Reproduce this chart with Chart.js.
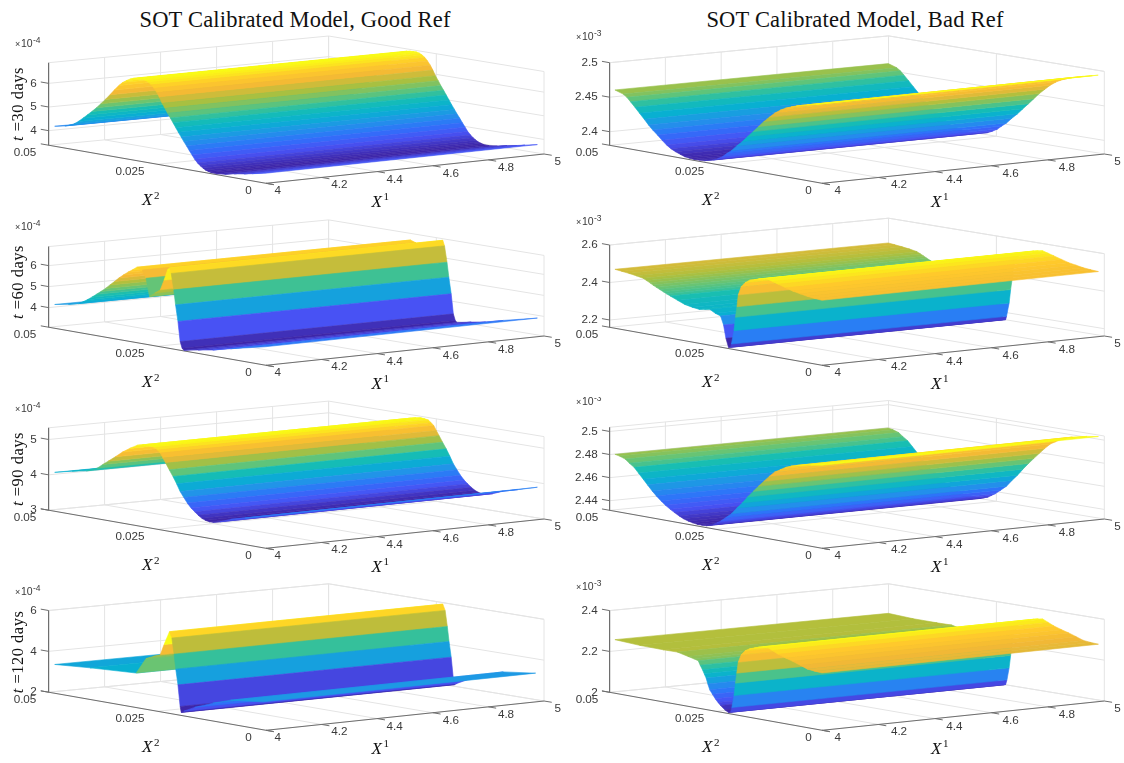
<!DOCTYPE html>
<html><head><meta charset="utf-8">
<style>
html,body{margin:0;padding:0;background:#fff;width:1124px;height:763px;overflow:hidden}
canvas{position:absolute;display:block}
.ttl{position:absolute;top:7px;font-family:"Liberation Serif",serif;font-size:22.5px;color:#111;white-space:nowrap;transform:translateX(-50%);letter-spacing:.2px}
</style>
<script src="https://cdn.jsdelivr.net/npm/chart.js@4"></script>
</head><body>
<div class="ttl" style="left:295px">SOT Calibrated Model, Good Ref</div>
<div class="ttl" style="left:855px">SOT Calibrated Model, Bad Ref</div>
<script>
const X1_TICKS=[4,4.2,4.4,4.6,4.8,5];
const X2_TICKS=[0,0.025,0.05];
const X1_SPAN=[4,4.98];

const x2_good30=[.0486,.04625,.04525,.0442,.04315,.0421,.0411,.04005,.039,.038,.03695,.0359,.0349,.03385,.033,.03215,.0313,.0305,.0297,.02885,.02825,.0276,.027,.02635,.02575,.0251,.0245,.0239,.02325,.02265,.022,.0214,.02075,.02015,.0195,.0189,.01825,.01765,.017,.0164,.01575,.01515,.0145,.01395,.0133,.0127,.01145,.0095,.0073,.005,.00315,.00025];
const z_good30=[4.23,4.32,4.38,4.47,4.61,4.78,4.95,5.13,5.32,5.52,5.74,5.97,6.2,6.43,6.58,6.69,6.78,6.84,6.86,6.87,6.87,6.84,6.78,6.7,6.57,6.41,6.22,6.0,5.81,5.62,5.44,5.26,5.07,4.89,4.71,4.54,4.37,4.2,4.03,3.87,3.74,3.64,3.56,3.5,3.46,3.43,3.42,3.46,3.55,3.62,3.69,3.8];

const x2_good60=[.0486,.04545,.0431,.0421,.0411,.04005,.039,.038,.0369,.0359,.03485,.03385,.0328,.03175,.0307,.0297,.02845,.0276,.0268,.02555,.0243,.02345,.02265,.0222,.0218,.02122,.0208,.02025,.01975,.0193,.0189,.0156,.01225,.00815,.00025];
const z_good60=[4.2,4.32,4.44,4.56,4.7,4.86,5.03,5.2,5.39,5.59,5.79,5.99,6.18,6.35,6.5,6.66,6.57,6.21,5.37,5.58,5.78,6.27,6.78,6.9,6.65,5.89,5.19,4.42,3.48,3.18,3.1,3.23,3.35,3.56,3.94];

const x2_good90=[.0486,.0446,.0413,.0388,.03755,.0363,.03465,.033,.03135,.0297,.02845,.0272,.02635,.02555,.0249,.0243,.0237,.02305,.02225,.0214,.02055,.01975,.0189,.0181,.01725,.0164,.0156,.01475,.01395,.0131,.01225,.0106,.00815,.0048,.00025];
const z_good90=[4.1,4.22,4.3,4.43,4.56,4.68,4.84,5.01,5.15,5.27,5.31,5.33,5.32,5.3,5.24,5.17,5.04,4.91,4.74,4.57,4.38,4.18,4.03,3.89,3.77,3.68,3.6,3.53,3.49,3.47,3.47,3.52,3.64,3.75,3.91];

const x2_good120=[.0486,.04045,.02985,.0276,.02595,.0243,.02345,.0222,.02165,.02115,.02075,.02025,.01975,.0195,.0189,.0164,.01225,.00815,.00065];
const z_good120=[3.41,3.55,3.69,4.48,4.65,4.79,5.32,6.0,5.71,4.94,4.22,3.47,2.43,2.15,2.23,2.51,2.87,3.17,3.37];

const x2_bad30=[.04875,.0468,.04595,.0451,.04405,.04295,.04185,.04085,.03985,.03875,.03765,.0366,.0356,.0345,.0334,.03235,.03135,.03025,.029,.0277,.0256,.0246,.02345,.02245,.02135,.0201,.0188,.01755,.01625,.015,.01375,.01245,.0112,.0099,.00865,.00735,.0061,.00355,.00145,.0001];
const z_bad30=[2.4619,2.458,2.4543,2.4489,2.442,2.4345,2.427,2.4199,2.4136,2.4077,2.4011,2.3955,2.3913,2.3882,2.3855,2.3833,2.3825,2.3817,2.3822,2.3826,2.3859,2.3889,2.3931,2.3986,2.4041,2.4123,2.42,2.4286,2.4373,2.4459,2.4545,2.4622,2.4694,2.4752,2.4795,2.4828,2.4857,2.49,2.4932,2.4953];

const x2_bad60=[.04875,.0472,.0455,.0438,.0421,.0413,.0405,.0398,.039,.0382,.0374,.0366,.03575,.034,.03235,.0306,.029,.0277,.02645,.02515,.0239,.0232,.02265,.02205,.02155,.02135,.02075,.0204,.02005,.01975,.01905,.01815,.0171,.016,.015,.014,.0129,.0117,.01035,.0086,.00695,.0052,.00355,.0018,.00005];
const z_bad60=[2.4755,2.4715,2.467,2.4615,2.4544,2.4455,2.4365,2.4275,2.4188,2.4105,2.402,2.394,2.3859,2.3695,2.3548,2.347,2.3423,2.3477,2.3525,2.3365,2.3272,2.2819,2.2133,2.1676,2.1697,2.188,2.2618,2.3343,2.3921,2.4561,2.5034,2.5283,2.545,2.5525,2.5606,2.5655,2.5692,2.561,2.552,2.54,2.529,2.5215,2.5148,2.5105,2.5077];

const x2_bad90=[.04875,.04765,.04635,.04535,.04425,.0432,.0421,.0411,.04,.039,.0379,.03685,.03575,.03475,.03365,.03265,.03155,.0305,.0294,.0284,.0273,.02645,.0256,.02475,.0239,.02265,.02135,.0201,.0188,.01755,.01625,.015,.01375,.01245,.0112,.0099,.00865,.00735,.0061,.0027,.00005];
const z_bad90=[2.481,2.4802,2.4785,2.4756,2.4727,2.4684,2.4639,2.4596,2.4551,2.4514,2.4478,2.4447,2.442,2.4398,2.4376,2.4359,2.4346,2.4338,2.4331,2.4331,2.4333,2.4344,2.4355,2.4375,2.4395,2.4434,2.4475,2.4532,2.4586,2.4646,2.4703,2.4755,2.4806,2.4858,2.4903,2.4932,2.496,2.498,2.4994,2.5021,2.5036];

const x2_bad120=[.04875,.04295,.03745,.03405,.03155,.0302,.02915,.0287,.02815,.02775,.0273,.0269,.02645,.0258,.02515,.0245,.0239,.0229,.02205,.02155,.02125,.02075,.0204,.0201,.01975,.01905,.01815,.0171,.016,.015,.014,.0129,.0117,.01035,.0086,.00695,.0052,.00355,.0018,.00005];
const z_bad120=[2.2624,2.2561,2.2552,2.2562,2.2443,2.238,2.2319,2.212,2.1916,2.173,2.1539,2.127,2.0999,2.08,2.0607,2.045,2.0326,2.015,2.0052,2.0086,2.0326,2.093,2.155,2.205,2.26,2.2987,2.3215,2.3352,2.343,2.351,2.356,2.3587,2.347,2.3339,2.322,2.3122,2.2995,2.2872,2.283,2.2807];

const ztick_good30=[4,5,6], ztick_good60=[4,5,6], ztick_good90=[3,4,5], ztick_good120=[2,4,6];
const ztick_bad30=[2.4,2.45,2.5], ztick_bad60=[2.2,2.4,2.6], ztick_bad90=[2.44,2.46,2.48,2.5], ztick_bad120=[2,2.2,2.4];
const zlim_good30=[3.385,6.873], zlim_good60=[3.067,6.905], zlim_good90=[3,5.33], zlim_good120=[2,6];
const zlim_bad30=[2.3803,2.5], zlim_bad60=[2.161,2.6], zlim_bad90=[2.4317,2.5036], zlim_bad120=[2,2.4];
const DAYS=[30,60,90,120];

const PARULA=[[.242,.150,.660],[.281,.323,.958],[.180,.450,.980],[.130,.580,.910],[.030,.690,.820],[.090,.745,.700],[.400,.770,.460],[.680,.750,.240],[.950,.720,.210],[1,.790,.170],[.977,.984,.081]];
function parula(t){t=Math.max(0,Math.min(1,t))*10;const i=Math.min(9,Math.floor(t)),f=t-i;
  const c=PARULA[i].map((v,k)=>Math.round(255*(v+(PARULA[i+1][k]-v)*f)));return `rgb(${c[0]},${c[1]},${c[2]})`;}

const panels=[
 {c:0,r:0,x2:x2_good30,z:z_good30,zlim:zlim_good30,zt:ztick_good30,e:'-4',H:82.5,mY:44},
 {c:0,r:1,x2:x2_good60,z:z_good60,zlim:zlim_good60,zt:ztick_good60,e:'-4',H:80.6,mY:227},
 {c:0,r:2,x2:x2_good90,z:z_good90,zlim:zlim_good90,zt:ztick_good90,e:'-4',H:82.4,mY:409},
 {c:0,r:3,x2:x2_good120,z:z_good120,zlim:zlim_good120,zt:ztick_good120,e:'-4',H:81.7,mY:592},
 {c:1,r:0,x2:x2_bad30,z:z_bad30,zlim:zlim_bad30,zt:ztick_bad30,e:'-3',H:82.6,mY:37},
 {c:1,r:1,x2:x2_bad60,z:z_bad60,zlim:zlim_bad60,zt:ztick_bad60,e:'-3',H:82.3,mY:222},
 {c:1,r:2,x2:x2_bad90,z:z_bad90,zlim:zlim_bad90,zt:ztick_bad90,e:'-3',H:83,mY:402},
 {c:1,r:3,x2:x2_bad120,z:z_bad120,zlim:zlim_bad120,zt:ztick_bad120,e:'-3',H:81.7,mY:587}
];
const ROW_OFF=[0,182,365,547], ROW_TOP=[0,213,397,580], ROW_H=[213,184,183,183], YLAB_Y=[104,282,469,652];
const COLS=[
 {F:[266,183.3],L:[48.6,145.2],R:[544,154],K:[328.6,118.5],zr:36.8,mx:15,l05:25,l025:130,l0:248.6,x1l:[277.8,339.4,394.6,450.8,506,557.8],x2lab:151,x1lab:380.5},
 {F:[822.2,183.3],L:[609.6,145.3],R:[1104.3,154],K:[888.5,118.5],zr:597.7,mx:576,l05:587,l025:689.6,l0:808.5,x1l:[837.7,899,954.4,1010.6,1066.8,1117.6],x2lab:711,x1lab:940}
];
const GRID='#e4e4e4', AXIS='#6e6e6e', TXT='#3a3a3a';

panels.forEach(p=>{
  const G=COLS[p.c], off=ROW_OFF[p.r], top=ROW_TOP[p.r], left=p.c*562, W=562, Hc=ROW_H[p.r];
  const proj=(x1,x2,z)=>{
    const u=x1-4,v=x2/0.05,a=(1-u)*(1-v),b=u*(1-v),c=(1-u)*v,d=u*v;
    const x=a*G.F[0]+b*G.R[0]+c*G.L[0]+d*G.K[0];
    const y=a*G.F[1]+b*G.R[1]+c*G.L[1]+d*G.K[1];
    return {x:x-left,y:y+off-top-(z-p.zlim[0])/(p.zlim[1]-p.zlim[0])*p.H};
  };
  const zA=p.zlim[0],zB=p.zlim[1];
  const line=(a,b,color,w)=>({data:[a,b],showLine:true,borderColor:color,borderWidth:w||1,pointRadius:0,fill:false,clip:false});
  const ds=[];
  const cmin=Math.min(...p.z),cmax=Math.max(...p.z);
  for(let i=p.x2.length-2;i>=0;i--){
    const col=parula((p.z[i+1]-cmin)/(cmax-cmin));
    const A=proj(X1_SPAN[0],p.x2[i],p.z[i]),B=proj(X1_SPAN[1],p.x2[i],p.z[i]),
          C=proj(X1_SPAN[1],p.x2[i+1],p.z[i+1]),D=proj(X1_SPAN[0],p.x2[i+1],p.z[i+1]);
    ds.push({data:[A,B,C,D,A],showLine:true,fill:'shape',backgroundColor:col,borderColor:col,borderWidth:.6,pointRadius:0,clip:false});
  }
  ds.push(line(proj(4,.05,zA),proj(4,.05,zB),AXIS,1.2));
  ds.push(line(proj(4,.0518,zA),proj(4,-.0018,zA),AXIS));
  ds.push(line(proj(4,0,zA),proj(5,0,zA),AXIS));
  X1_TICKS.forEach(t=>ds.push(line(proj(t,0,zA),proj(t,-.0018,zA),AXIS)));
  p.zt.forEach(t=>ds.push(line(proj(4,.05,t),proj(4,.0518,t),AXIS)));
  X1_TICKS.forEach(t=>{
    ds.push(line(proj(t,0,zA),proj(t,.05,zA),GRID));
    ds.push(line(proj(t,.05,zA),proj(t,.05,zB),GRID));
  });
  X2_TICKS.forEach(t=>{
    ds.push(line(proj(4,t,zA),proj(5,t,zA),GRID));
    ds.push(line(proj(5,t,zA),proj(5,t,zB),GRID));
  });
  p.zt.concat([zB]).forEach(t=>{
    ds.push(line(proj(4,.05,t),proj(5,.05,t),GRID));
    ds.push(line(proj(5,.05,t),proj(5,0,t),GRID));
  });
  const canvas=document.createElement('canvas');
  canvas.width=W;canvas.height=Hc;canvas.style.left=left+'px';canvas.style.top=top+'px';
  document.body.appendChild(canvas);
  const labels={id:'labels',afterDatasetsDraw(ch){
    const ctx=ch.ctx;const dy=off-top;
    ctx.save();ctx.fillStyle=TXT;ctx.textBaseline='middle';
    ctx.font='11.7px "Liberation Sans"';
    ctx.textAlign='right';
    p.zt.forEach(t=>{const q=proj(4,.05,t);ctx.fillText(String(t),G.zr-left,q.y);});
    ctx.textAlign='center';
    ctx.fillText('0.05',G.l05-left,153+dy);
    ctx.fillText('0.025',G.l025-left,172+dy);
    ctx.fillText('0',G.l0-left,190.7+dy);
    X1_TICKS.forEach((t,i)=>ctx.fillText(String(t),G.x1l[i]-left,191-i*5.8+dy));
    ctx.textAlign='left';
    ctx.font='9px "Liberation Sans"';ctx.fillText('×',G.mx-left,p.mY+.5-top);
    ctx.font='10.5px "Liberation Sans"';ctx.fillText('10',G.mx-left+6,p.mY-top);
    ctx.font='8.5px "Liberation Sans"';ctx.fillText(p.e,G.mx-left+18,p.mY-3.5-top);
    ctx.fillStyle='#111';
    const xlab=(cx,y,sup)=>{ctx.textAlign='left';
      ctx.font='italic 17px "Liberation Serif"';ctx.fillText('X',cx-left-9,y+dy);
      ctx.font='11px "Liberation Serif"';ctx.fillText(sup,cx-left+3,y+dy-5);};
    xlab(G.x2lab,201,'2');xlab(G.x1lab,202.5,'1');
    if(p.c===0){
      ctx.save();ctx.translate(18.5,YLAB_Y[p.r]-top);ctx.rotate(-Math.PI/2);
      const rest=' =' + DAYS[p.r] + ' days';
      ctx.letterSpacing='.5px';
      ctx.font='16.5px "Liberation Serif"';const w2=ctx.measureText(rest).width;
      ctx.font='italic 16.5px "Liberation Serif"';const w1=ctx.measureText('t').width;
      ctx.textAlign='left';
      ctx.fillText('t',-(w1+w2)/2,0);
      ctx.font='16.5px "Liberation Serif"';ctx.fillText(rest,-(w1+w2)/2+w1,0);
      ctx.restore();
    }
    ctx.restore();
  }};
  new Chart(canvas,{type:'scatter',data:{datasets:ds},plugins:[labels],options:{
    responsive:false,animation:false,devicePixelRatio:1,
    layout:{padding:0},
    plugins:{legend:{display:false},tooltip:{enabled:false},title:{display:false}},
    events:[],
    scales:{x:{type:'linear',display:false,min:0,max:W},y:{type:'linear',display:false,min:0,max:Hc,reverse:true}}
  }});
});
</script>
</body></html>
